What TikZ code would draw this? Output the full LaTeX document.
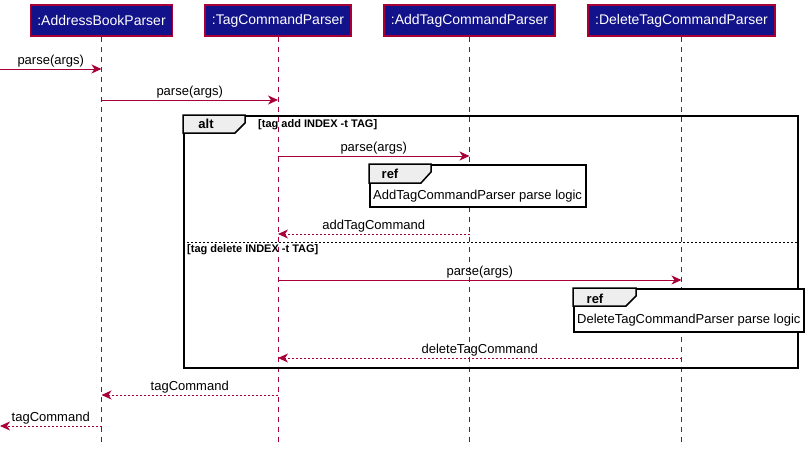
\documentclass[tikz,border=0pt]{standalone}
\usepackage{fontspec}
\setmainfont{Liberation Sans}
\usetikzlibrary{positioning}
\usetikzlibrary{calc}
\usetikzlibrary{arrows.meta}
\definecolor{umlred}{HTML}{A80036}
\definecolor{umlblue}{HTML}{12128A}
\definecolor{tabgray}{HTML}{EEEEEE}
\tikzset{>={Stealth[length=10pt,width=9pt,inset=3pt]}}
\tikzset{participant/.style={rectangle, draw=umlred, fill=umlblue, text=white, line width=1.3pt, minimum height=31pt, inner xsep=7pt, font=\fontsize{14}{16}\selectfont}}
\tikzset{lifeline/.style={draw=umlred, line width=0.8pt, dash pattern=on 5pt off 5pt}}
\tikzset{call/.style={draw=umlred, line width=0.9pt, ->}}
\tikzset{reply/.style={draw=umlred, line width=0.9pt, dash pattern=on 2pt off 2pt, ->}}
\tikzset{msglabel/.style={above, inner sep=1.5pt, font=\fontsize{13}{15}\selectfont}}
\tikzset{frame/.style={rectangle, draw=black, line width=1.5pt, inner sep=0pt}}
\tikzset{refbox/.style={rectangle, draw=black, fill=white, line width=1.5pt, inner sep=0pt}}
\tikzset{tab/.style={draw=black, fill=tabgray, line width=1.5pt}}
\tikzset{tablabel/.style={font=\bfseries\fontsize{13}{15}\selectfont}}
\tikzset{guard/.style={anchor=west, inner sep=0pt, font=\bfseries\fontsize{11}{13}\selectfont}}
\tikzset{reftext/.style={anchor=west, inner sep=0pt, font=\fontsize{13}{15}\selectfont}}
\tikzset{separator/.style={draw=black, line width=0.8pt, dash pattern=on 2pt off 2pt}}

\begin{document}
\begin{tikzpicture}[x=1pt, y=-1pt]
    \useasboundingbox (0,0) rectangle (808,450);

    \node [participant] (abp) at (101.5,20.5) {:AddressBookParser};
    \node [participant] (tcp) at (278,20.5) {:TagCommandParser};
    \node [participant] (atcp) at (469.5,20.5) {:AddTagCommandParser};
    \node [participant] (dtcp) at (681.5,20.5) {:DeleteTagCommandParser};

    \coordinate (bottom) at (0,443);
    \coordinate (entry) at (0,69);
    \coordinate (exit) at (0,426);

    % The lifelines below the participants.
    \foreach \p in {abp, tcp, atcp, dtcp}
        \draw [lifeline] (\p.south) -- (\p |- bottom);

    \draw [call] (entry) -- node [msglabel] {parse(args)} (abp |- entry);
    \draw [call] (abp |- 0,100) -- node [msglabel] {parse(args)} (tcp |- 0,100);

    % The alt fragment.
    \node [frame, anchor=north west, minimum width=614pt, minimum height=252pt] (alt) at (183,115) {};
    \draw [tab] (alt.north west) -- ++(62,0) -- ++(0,8) -- ++(-10,10) -- (alt.west |- 0,133) -- cycle;
    \node [tablabel] (altlabel) at ($(alt.north west) + (23,9)$) {alt};
    \node [guard] (guard0) at (258,125) {[tag add INDEX -t TAG]};

    \draw [call] (tcp |- 0,156) -- node [msglabel] {parse(args)} (atcp |- 0,156);

    \node [refbox, anchor=north west, minimum width=216pt, minimum height=42pt] (ref0) at (369,164) {};
    \draw [tab] (ref0.north west) -- ++(62,0) -- ++(0,8) -- ++(-10,11) -- (ref0.west |- 0,183) -- cycle;
    \node [tablabel] (reflabel0) at ($(ref0.north west) + (21,10)$) {ref};
    \node [reftext] (reftext0) at ($(ref0.south west) + (4,-11)$) {AddTagCommandParser parse logic};

    \draw [reply] (atcp |- 0,234) -- node [msglabel] {addTagCommand} (tcp |- 0,234);

    % The dashed line between the two cases.
    \draw [separator] (alt.west |- 0,242) -- (alt.east |- 0,242);
    \node [guard] (guard1) at (187,250) {[tag delete INDEX -t TAG]};

    \draw [call] (tcp |- 0,280) -- node [msglabel] {parse(args)} (dtcp |- 0,280);

    \node [refbox, anchor=north west, minimum width=230pt, minimum height=43pt] (ref1) at (573,288) {};
    \draw [tab] (ref1.north west) -- ++(63,0) -- ++(0,8) -- ++(-10,10) -- (ref1.west |- 0,306) -- cycle;
    \node [tablabel] (reflabel1) at ($(ref1.north west) + (22,11)$) {ref};
    \node [reftext] (reftext1) at ($(ref1.south west) + (4,-12)$) {DeleteTagCommandParser parse logic};

    \draw [reply] (dtcp |- 0,358) -- node [msglabel] {deleteTagCommand} (tcp |- 0,358);

    \draw [reply] (tcp |- 0,395) -- node [msglabel] {tagCommand} (abp |- 0,395);
    \draw [reply] (abp |- exit) -- node [msglabel] {tagCommand} (exit);

\end{tikzpicture}
\end{document}
